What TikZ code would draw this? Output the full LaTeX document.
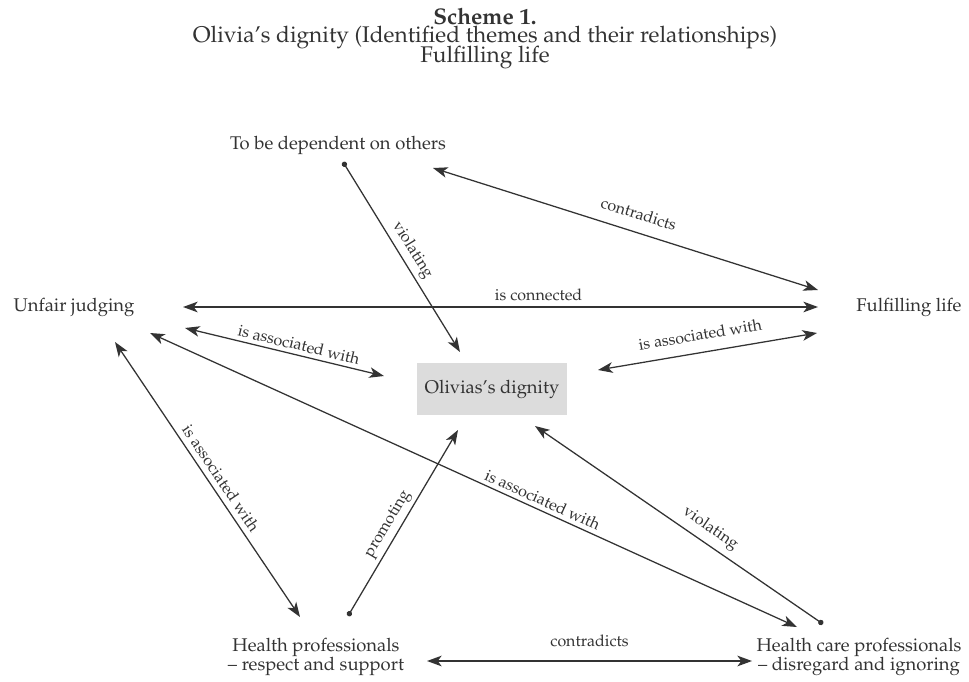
\documentclass[tikz,border=0pt]{standalone}
\usepackage[T1]{fontenc}
\usepackage{mathpazo}
\usetikzlibrary{arrows.meta}
\definecolor{ink}{HTML}{333333}
\definecolor{boxgray}{HTML}{DCDCDC}
\begin{document}
\begin{tikzpicture}[x=0.75pt,y=-0.75pt,
  txt/.style={text=ink, inner sep=0pt, font=\fontsize{13.8}{14.3}\selectfont},
  ttl/.style={text=ink, inner sep=0pt, font=\fontsize{17}{19}\selectfont},
  lab/.style={text=ink, font=\fontsize{12}{13}\selectfont, sloped, inner sep=2.5pt},
  conn/.style={draw=ink, line width=0.95pt, {Stealth[length=11pt,width=8pt,inset=3pt]}-{Stealth[length=11pt,width=8pt,inset=3pt]}},
  dconn/.style={draw=ink, line width=0.95pt, {Circle[length=4pt]}-{Stealth[length=11pt,width=8pt,inset=3pt]}}]
\path[use as bounding box] (0,0) rectangle (969,681);

% title
\node[ttl] (t1) at (485,16) {\bfseries Scheme 1.};
\node[ttl] (t2) at (485,37) {Olivia's dignity (Identified themes and their relationships)};
\node[ttl] (t3) at (485,57) {Fulfilling life};

% theme nodes
\node[txt] (dep) at (338,145) {To be dependent on others};
\node[txt] (uj) at (74,307) {Unfair judging};
\node[txt] (fl) at (909,307) {Fulfilling life};
\node[txt, fill=boxgray, minimum width=112.5pt, minimum height=39pt] (od) at (492,389) {Olivias's dignity};
\node[txt, align=center] (hp) at (316,657) {Health professionals\\-- respect and support};
\node[txt, align=center] (hc) at (859,657) {Health care professionals\\-- disregard and ignoring};

% connector end points
\coordinate (depA) at (433,168);
\coordinate (flA) at (818,290);
\coordinate (ujB) at (183,307);
\coordinate (flB) at (818,307);
\coordinate (ujC) at (185,328);
\coordinate (odC) at (384,376);
\coordinate (flD) at (817,333);
\coordinate (odD) at (598,370);
\coordinate (depE) at (343,162);
\coordinate (odE) at (460,352);
\coordinate (hpF) at (348,616);
\coordinate (odF) at (458,430);
\coordinate (ujG) at (115,342);
\coordinate (hpG) at (300,617);
\coordinate (ujH) at (150,333);
\coordinate (hcH) at (797,627);
\coordinate (hcI) at (823,624);
\coordinate (odI) at (535,426);
\coordinate (hpJ) at (427,661);
\coordinate (hcJ) at (752,661);

% connectors
\draw[conn] (depA) -- node[lab, above=6.5pt, pos=0.52] {contradicts} (flA);
\draw[conn] (ujB) -- node[lab, above=2pt, pos=0.56] {is connected} (flB);
\draw[conn] (ujC) -- node[lab, above=0.5pt, pos=0.56] {is associated with} (odC);
\draw[conn] (odD) -- node[lab, above=6pt, pos=0.48] {is associated with} (flD);
\draw[dconn] (depE) -- node[lab, above=0.5pt, pos=0.5] {violating} (odE);
\draw[dconn] (hpF) -- node[lab, above=0.5pt, pos=0.46] {promoting} (odF);
\draw[conn] (ujG) -- node[lab, above=1.5pt, pos=0.52] {is associated with} (hpG);
\draw[conn] (ujH) -- node[lab, above=0.5pt, pos=0.6] {is associated with} (hcH);
\draw[dconn] (hcI) -- node[lab, above=2pt, pos=0.42] {violating} (odI);
\draw[conn] (hpJ) -- node[lab, above=7.5pt, pos=0.5] {contradicts} (hcJ);
\end{tikzpicture}
\end{document}
